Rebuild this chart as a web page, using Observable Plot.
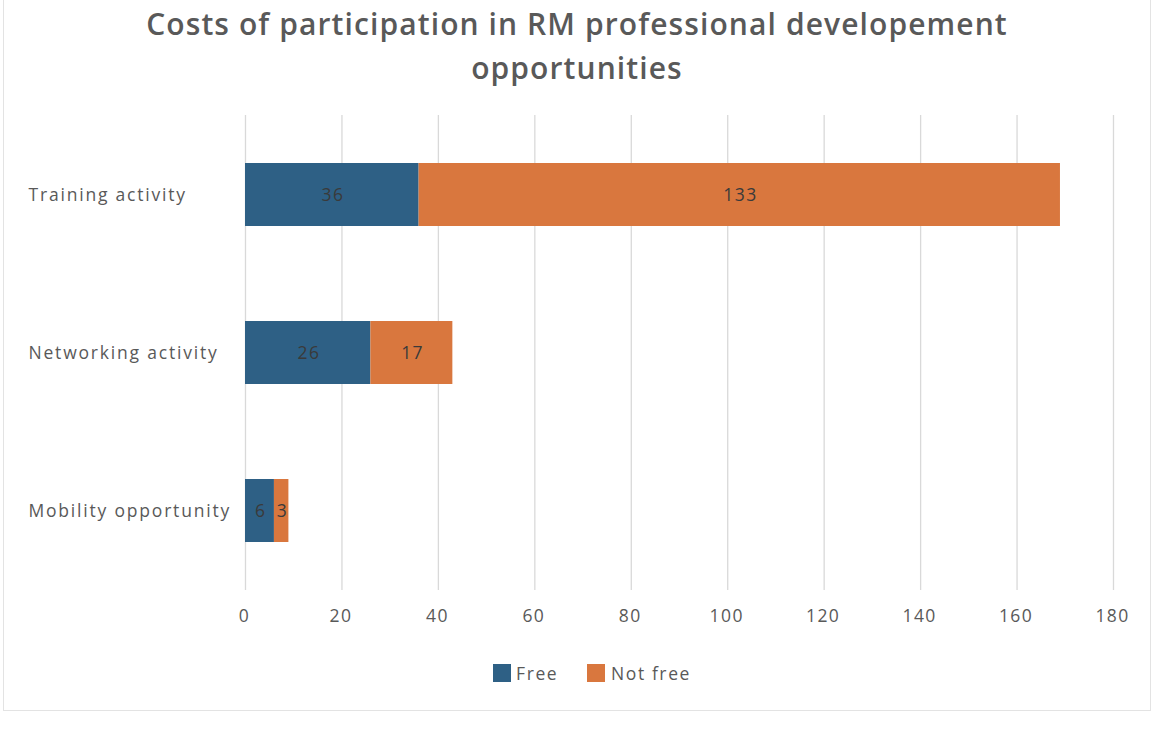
<!DOCTYPE html>
<html>
<head>
<meta charset="utf-8">
<script src="https://cdn.jsdelivr.net/npm/d3@7"></script>
<script src="https://cdn.jsdelivr.net/npm/@observablehq/plot@0.6"></script>
<style>
  html, body { margin: 0; padding: 0; background: #fff; }
  #frame { position: absolute; left: 3px; top: -2px; width: 1148px; height: 713px; border: 1px solid #e3e3e3; box-sizing: border-box; }
  #title { position: absolute; left: 0; top: 2px; width: 1154px; text-align: center; font-family: "Open Sans", sans-serif; font-weight: 600; font-size: 30px; line-height: 44px; color: #595959; letter-spacing: 1.1px; }
  #chart { position: absolute; left: 0; top: 100px; }
  #chart svg text { letter-spacing: 1.4px; }
  #chart svg g[aria-label="y-axis tick label"] text { letter-spacing: 1.8px; }
  #legend { position: absolute; top: 663px; left: 0; width: 1154px; font-family: "Open Sans", sans-serif; font-size: 17.5px; color: #595959; letter-spacing: 1.6px; }
  .sw { position: absolute; width: 18px; height: 18px; top: 1px; }
  .lt { position: absolute; top: -2px; }
</style>
</head>
<body>
<div id="frame"></div>
<div id="title">Costs of participation in RM professional developement<br>opportunities</div>
<div id="chart"></div>
<div id="legend"></div>
<script>
const categories = ["Training activity", "Networking activity", "Mobility opportunity"];
const seriesNames = ["Free", "Not free"];
const freeValues = [36, 26, 6];
const notFreeValues = [133, 17, 3];
const xTicks = [0, 20, 40, 60, 80, 100, 120, 140, 160, 180];
const colors = ["#2E6085", "#D9773E"];

const data = [];
categories.forEach((c, i) => {
  data.push({category: c, series: seriesNames[0], value: freeValues[i]});
  data.push({category: c, series: seriesNames[1], value: notFreeValues[i]});
});

const chart = Plot.plot({
  width: 1154,
  height: 540,
  marginTop: 15,
  marginBottom: 50,
  marginLeft: 245,
  marginRight: 41,
  style: { fontFamily: "'Open Sans', sans-serif", fontSize: "16px", color: "#595959", background: "transparent" },
  x: { domain: [0, 180], ticks: xTicks },
  y: { domain: categories, paddingInner: 0.6, paddingOuter: 0.3 },
  color: { domain: seriesNames, range: colors },
  marks: [
    Plot.gridX(xTicks, { stroke: "#d9d9d9", strokeOpacity: 1, strokeWidth: 1.3 }),
    Plot.axisX(xTicks, { tickSize: 0, tickPadding: 19, label: null, fill: "#595959", fontSize: 17.5, dx: -1 }),
    Plot.axisY({ tickSize: 0, tickPadding: 217, textAnchor: "start", label: null, fill: "#595959", fontSize: 17.5 }),
    Plot.barX(data, Plot.stackX({ x: "value", y: "category", fill: "series", order: seriesNames })),
    Plot.text(data, Plot.stackX({ x: "value", y: "category", z: "series", order: seriesNames, text: d => String(d.value), fill: "#3a3a3a", fontSize: 17.5, dx: 0.7 }))
  ]
});
document.getElementById("chart").appendChild(chart);

const legend = document.getElementById("legend");
const legendPos = [[493, 516], [587, 611]];
seriesNames.forEach((s, i) => {
  const sw = document.createElement("div");
  sw.className = "sw";
  sw.style.left = legendPos[i][0] + "px";
  sw.style.background = colors[i];
  legend.appendChild(sw);
  const t = document.createElement("div");
  t.className = "lt";
  t.style.left = legendPos[i][1] + "px";
  t.textContent = s;
  legend.appendChild(t);
});
</script>
</body>
</html>
